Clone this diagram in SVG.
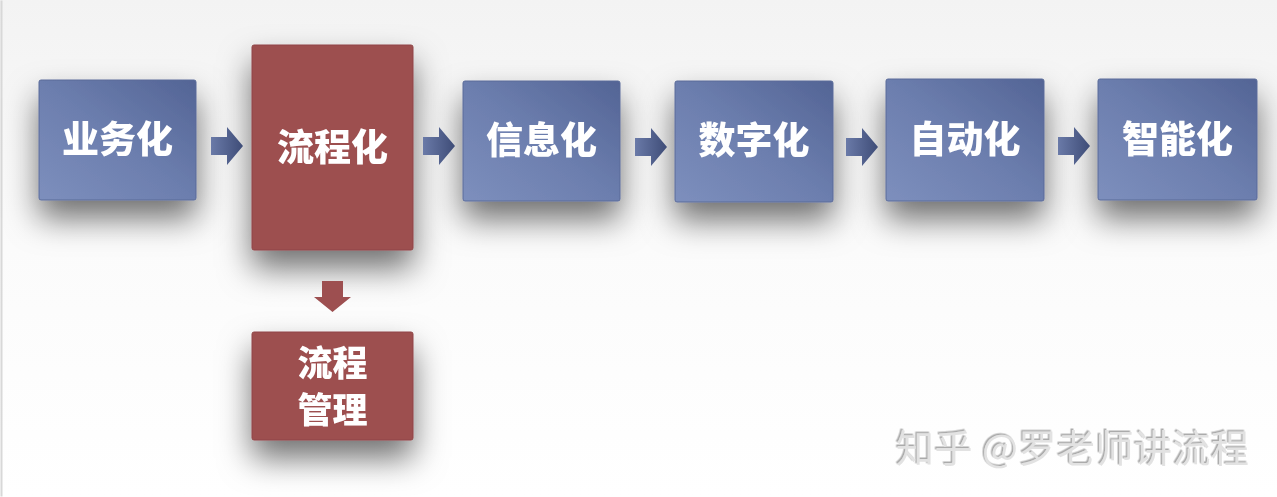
<svg xmlns="http://www.w3.org/2000/svg" width="1277" height="497" viewBox="0 0 1277 497">
<defs>
<linearGradient id="bg" x1="0" y1="0" x2="0" y2="1">
<stop offset="0" stop-color="#f3f3f3"/><stop offset="0.5" stop-color="#fbfbfb"/><stop offset="1" stop-color="#ffffff"/>
</linearGradient>
<linearGradient id="blue" x1="0" y1="1" x2="1" y2="0">
<stop offset="0" stop-color="#7d8fbd"/><stop offset="0.5" stop-color="#6c7eae"/><stop offset="1" stop-color="#536495"/>
</linearGradient>
<linearGradient id="arr" x1="0" y1="0" x2="1" y2="0">
<stop offset="0" stop-color="#6a7aa8"/><stop offset="1" stop-color="#3e4c77"/>
</linearGradient>
<filter id="sh" x="-40%" y="-40%" width="180%" height="200%">
<feDropShadow dx="0" dy="18" stdDeviation="16" flood-color="#000" flood-opacity="0.55"/>
</filter>
<filter id="emb" x="-5%" y="-20%" width="110%" height="140%">
<feDropShadow dx="-1.5" dy="-1.5" stdDeviation="0.3" flood-color="#888" flood-opacity="0.7"/>
</filter>
<path id="ra" d="M0,-9 H16 V-19 L32,0 L16,19 V9 H0 Z"/>
</defs>
<style>
.b{fill:url(#blue);stroke:#5a6a98;stroke-width:1}
.r{fill:#9d4f50;stroke:#8f4546;stroke-width:1}
.t{font-family:"Noto Sans CJK SC","Noto Sans CJK JP",sans-serif;font-weight:900;font-size:37px;fill:#ffffff;text-anchor:middle}
.t2{font-size:35px}
.a{fill:url(#arr)}
</style>
<rect width="1277" height="497" fill="url(#bg)"/>
<rect x="0.5" y="0.5" width="2" height="496" fill="#d8d8d8"/>
<g id="n1" filter="url(#sh)"><rect class="b" x="39" y="80" width="157" height="120" rx="2"/><text class="t" x="117.5" y="153">业务化</text></g>
<g id="n2" filter="url(#sh)"><rect class="r" x="252" y="45" width="161" height="205" rx="2"/><text class="t" x="332.5" y="161">流程化</text></g>
<g id="n3" filter="url(#sh)"><rect class="b" x="463" y="81" width="157" height="120" rx="2"/><text class="t" x="541.5" y="154">信息化</text></g>
<g id="n4" filter="url(#sh)"><rect class="b" x="675" y="81" width="158" height="121" rx="2"/><text class="t" x="754" y="154">数字化</text></g>
<g id="n5" filter="url(#sh)"><rect class="b" x="886" y="79" width="158" height="122" rx="2"/><text class="t" x="965" y="153">自动化</text></g>
<g id="n6" filter="url(#sh)"><rect class="b" x="1098" y="79" width="159" height="121" rx="2"/><text class="t" x="1177.5" y="153">智能化</text></g>
<g id="n7" filter="url(#sh)"><rect class="r" x="252" y="332" width="161" height="108" rx="2"/><text class="t t2" x="332.5" y="376">流程</text><text class="t t2" x="332.5" y="423">管理</text></g>
<g id="connectors">
<use href="#ra" class="a" x="211" y="146"/>
<use href="#ra" class="a" x="423" y="146"/>
<use href="#ra" class="a" x="635" y="147"/>
<use href="#ra" class="a" x="846" y="147"/>
<use href="#ra" class="a" x="1058" y="146"/>
<path d="M322,281 H343 V297 H351 L332.5,312 L314,297 H322 Z" fill="#9d4f50"/>
</g>
<text x="896" y="462" filter="url(#emb)" font-family="Noto Sans CJK SC,sans-serif" font-size="38" letter-spacing="0.5" fill="#e2e2e2">知乎 @罗老师讲流程</text>
</svg>
